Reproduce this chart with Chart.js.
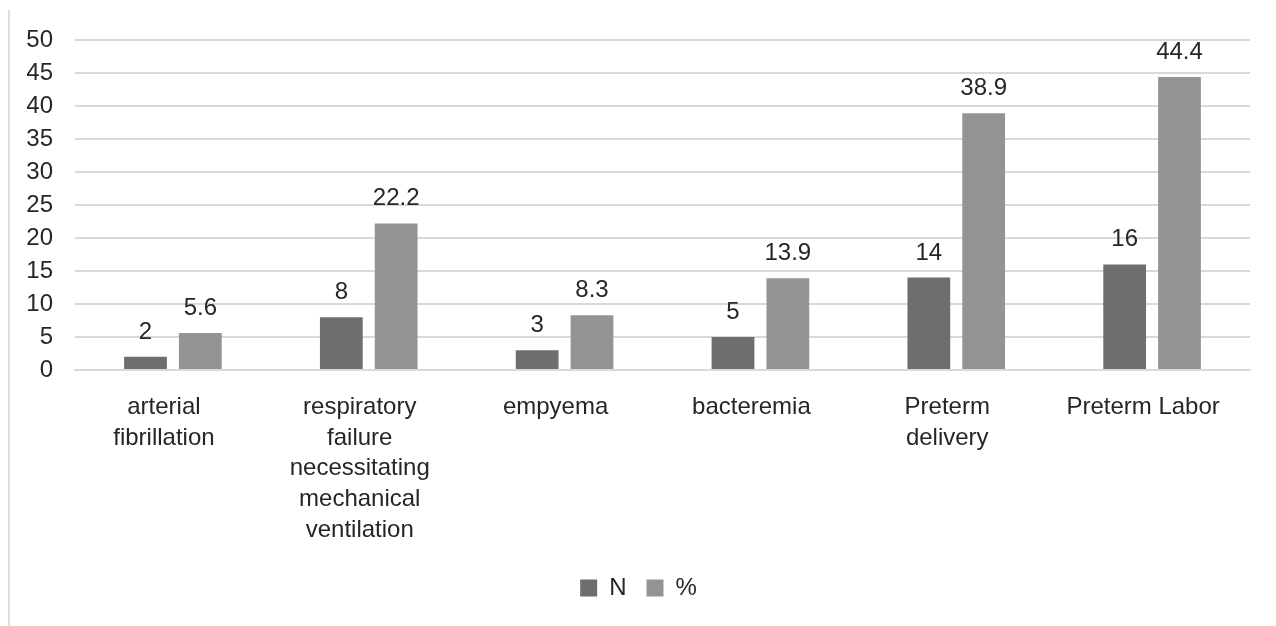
<!DOCTYPE html>
<html>
<head>
<meta charset="utf-8">
<script src="https://cdn.jsdelivr.net/npm/chart.js@4/dist/chart.umd.min.js"></script>
<style>
  html, body { margin: 0; padding: 0; background: #ffffff; }
  #wrap { position: relative; width: 1276px; height: 626px; }
  #frame { position: absolute; left: 8px; top: 10px; width: 2px; height: 616px; background: #dcdcdc; }
  canvas { position: absolute; left: 0; top: 0; }
</style>
</head>
<body>
<div id="wrap">
  <div id="frame"></div>
  <canvas id="chart" width="1276" height="626"></canvas>
</div>
<script>
// Complications: count (N) and share (%)
const categories = [
  ['arterial', 'fibrillation'],
  ['respiratory', 'failure', 'necessitating', 'mechanical', 'ventilation'],
  ['empyema'],
  ['bacteremia'],
  ['Preterm', 'delivery'],
  ['Preterm Labor']
];
const countN = [2, 8, 3, 5, 14, 16];
const percent = [5.6, 22.2, 8.3, 13.9, 38.9, 44.4];
const yTicks = [0, 5, 10, 15, 20, 25, 30, 35, 40, 45, 50];

const FONT = 'Liberation Sans, Arial, Helvetica, sans-serif';
const TEXT = '#262626';
const SIZE = 24;

// Writes each bar's value above it
const valueLabels = {
  id: 'valueLabels',
  afterDatasetsDraw(chart) {
    const ctx = chart.ctx;
    ctx.save();
    ctx.font = SIZE + 'px ' + FONT;
    ctx.fillStyle = TEXT;
    ctx.textAlign = 'center';
    ctx.textBaseline = 'alphabetic';
    chart.data.datasets.forEach((ds, i) => {
      const meta = chart.getDatasetMeta(i);
      meta.data.forEach((bar, j) => {
        ctx.fillText(String(ds.data[j]), bar.x, bar.y - 18);
      });
    });
    ctx.restore();
  }
};

new Chart(document.getElementById('chart'), {
  type: 'bar',
  data: {
    labels: categories,
    datasets: [
      { label: 'N', data: countN, backgroundColor: '#6e6e70' },
      { label: '%', data: percent, backgroundColor: '#939496' }
    ]
  },
  plugins: [valueLabels],
  options: {
    responsive: false,
    animation: false,
    devicePixelRatio: 1,
    layout: { padding: { left: 27, right: 26, top: 40, bottom: 16 } },
    datasets: { bar: { categoryPercentage: 0.56, barPercentage: 0.78 } },
    scales: {
      x: {
        grid: { display: false, drawTicks: false },
        border: { color: '#d9d9d9', width: 2 },
        ticks: {
          color: TEXT,
          font: { family: FONT, size: SIZE, lineHeight: 1.28 },
          padding: 22,
          maxRotation: 0,
          autoSkip: false,
          labelOffset: -9
        },
        afterFit(scale) { scale.height = 186; }
      },
      y: {
        min: 0,
        max: 50,
        afterBuildTicks(scale) { scale.ticks = yTicks.map(v => ({ value: v })); },
        grid: { color: '#d9d9d9', lineWidth: 2, drawTicks: false },
        border: { display: false },
        ticks: {
          color: TEXT,
          font: { family: FONT, size: SIZE },
          padding: 22
        },
        afterFit(scale) { scale.width = 48; }
      }
    },
    plugins: {
      legend: {
        position: 'bottom',
        labels: {
          color: TEXT,
          font: { family: FONT, size: SIZE },
          boxWidth: 17,
          boxHeight: 17,
          padding: 20
        }
      },
      tooltip: { enabled: false }
    }
  }
});
</script>
</body>
</html>
